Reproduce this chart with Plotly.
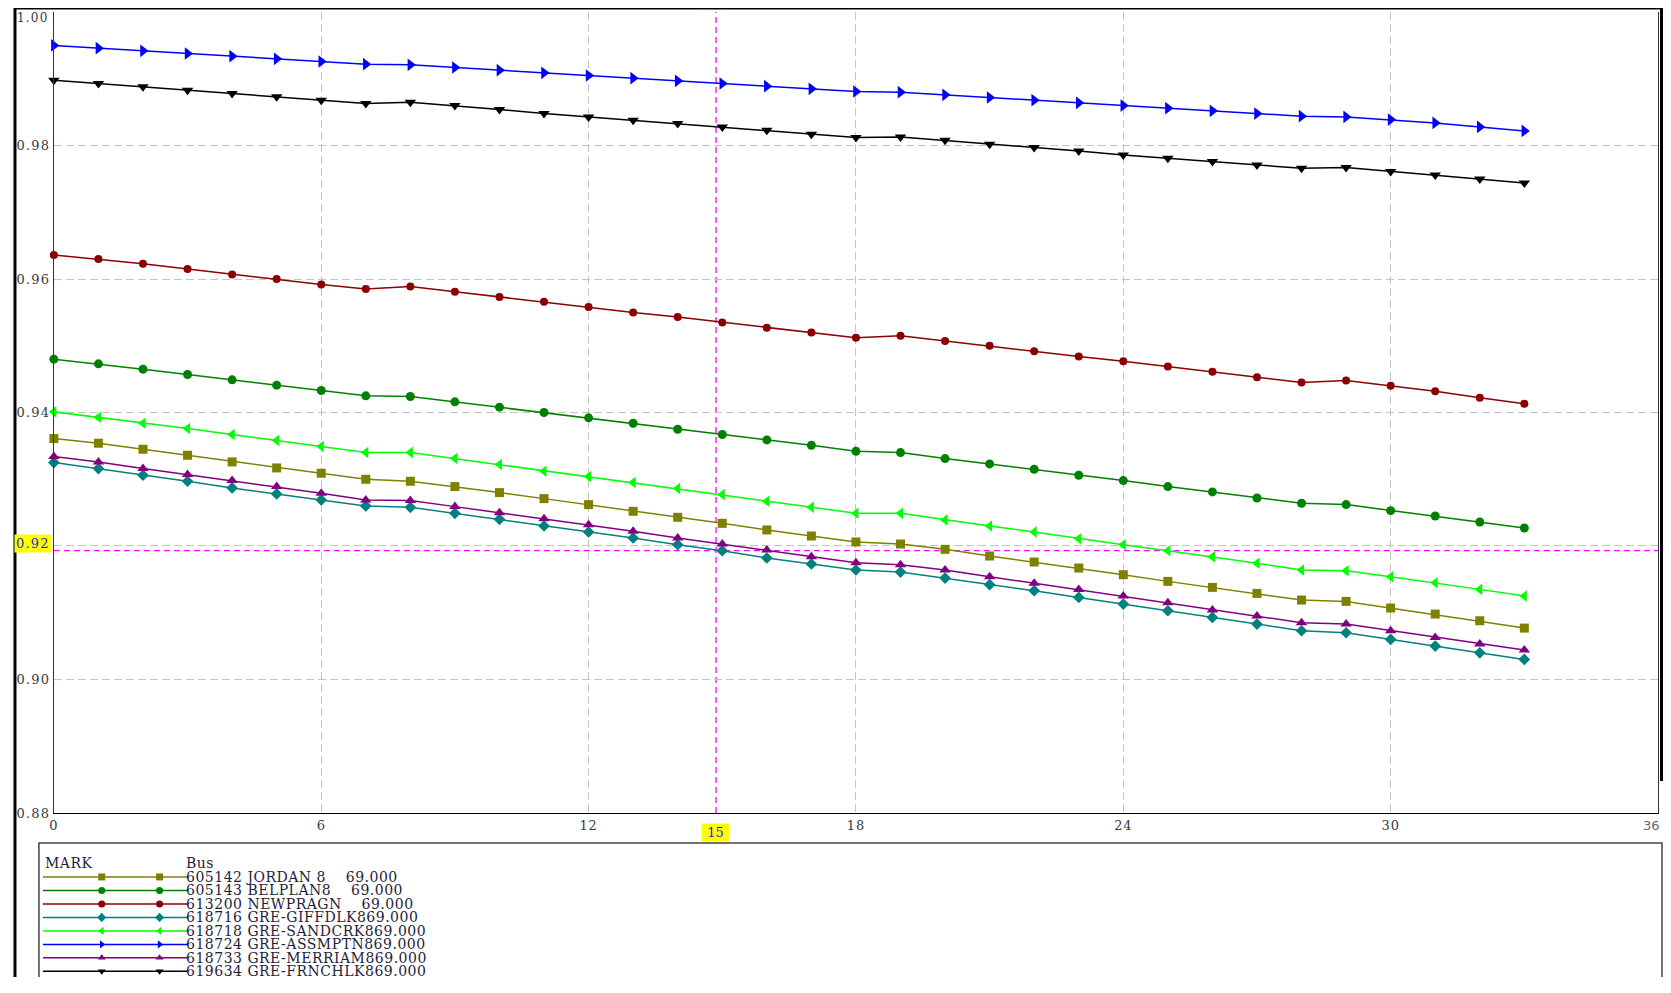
import plotly.graph_objects as go

# ---------------- data ----------------
steps = list(range(34))

bus_labels = [
    "605142 JORDAN 8    69.000",
    "605143 BELPLAN8    69.000",
    "613200 NEWPRAGN    69.000",
    "618716 GRE-GIFFDLK869.000",
    "618718 GRE-SANDCRK869.000",
    "618724 GRE-ASSMPTN869.000",
    "618733 GRE-MERRIAM869.000",
    "619634 GRE-FRNCHLK869.000",
]

jordan = [0.9361, 0.9354, 0.9345, 0.9336, 0.9326, 0.9317, 0.9309, 0.9300, 0.9297, 0.9289,
          0.9280, 0.9271, 0.9262, 0.9252, 0.9243, 0.9234, 0.9224, 0.9215, 0.9206, 0.9203,
          0.9195, 0.9185, 0.9176, 0.9167, 0.9157, 0.9147, 0.9138, 0.9129, 0.9119, 0.9117,
          0.9107, 0.9098, 0.9088, 0.9077]
belplan = [0.9480, 0.9473, 0.9465, 0.9457, 0.9449, 0.9441, 0.9433, 0.9425, 0.9424, 0.9416,
           0.9408, 0.9400, 0.9392, 0.9384, 0.9375, 0.9367, 0.9359, 0.9351, 0.9342, 0.9340,
           0.9331, 0.9323, 0.9315, 0.9306, 0.9298, 0.9289, 0.9281, 0.9272, 0.9264, 0.9262,
           0.9253, 0.9245, 0.9236, 0.9227]
newpragn = [0.9636, 0.9630, 0.9623, 0.9615, 0.9607, 0.9600, 0.9592, 0.9585, 0.9589, 0.9581,
            0.9573, 0.9566, 0.9558, 0.9550, 0.9543, 0.9535, 0.9527, 0.9520, 0.9512, 0.9515,
            0.9507, 0.9500, 0.9492, 0.9484, 0.9477, 0.9469, 0.9461, 0.9453, 0.9445, 0.9448,
            0.9440, 0.9432, 0.9422, 0.9413]
giffdlk = [0.9325, 0.9316, 0.9306, 0.9297, 0.9287, 0.9278, 0.9269, 0.9260, 0.9258, 0.9249,
           0.9240, 0.9230, 0.9221, 0.9212, 0.9202, 0.9193, 0.9182, 0.9173, 0.9164, 0.9161,
           0.9152, 0.9142, 0.9133, 0.9123, 0.9113, 0.9103, 0.9093, 0.9083, 0.9073, 0.9070,
           0.9060, 0.9050, 0.9040, 0.9030]
sandcrk = [0.9401, 0.9393, 0.9384, 0.9376, 0.9367, 0.9358, 0.9349, 0.9340, 0.9340, 0.9331,
           0.9322, 0.9312, 0.9304, 0.9295, 0.9286, 0.9277, 0.9267, 0.9258, 0.9249, 0.9249,
           0.9239, 0.9230, 0.9221, 0.9211, 0.9202, 0.9193, 0.9184, 0.9174, 0.9164, 0.9163,
           0.9154, 0.9145, 0.9135, 0.9125]
assmptn = [0.9950, 0.9946, 0.9942, 0.9938, 0.9934, 0.9930, 0.9926, 0.9922, 0.9921, 0.9917,
           0.9913, 0.9909, 0.9905, 0.9901, 0.9897, 0.9893, 0.9889, 0.9885, 0.9881, 0.9880,
           0.9876, 0.9872, 0.9868, 0.9864, 0.9860, 0.9856, 0.9852, 0.9848, 0.9844, 0.9843,
           0.9839, 0.9834, 0.9828, 0.9822]
merriam = [0.9334, 0.9326, 0.9316, 0.9307, 0.9298, 0.9289, 0.9279, 0.9269, 0.9268, 0.9259,
           0.9250, 0.9241, 0.9232, 0.9222, 0.9212, 0.9203, 0.9194, 0.9184, 0.9175, 0.9172,
           0.9164, 0.9154, 0.9144, 0.9135, 0.9125, 0.9115, 0.9104, 0.9095, 0.9085, 0.9083,
           0.9073, 0.9063, 0.9053, 0.9044]
frnchlk = [0.9898, 0.9893, 0.9888, 0.9883, 0.9878, 0.9873, 0.9868, 0.9863, 0.9865, 0.9860,
           0.9854, 0.9848, 0.9843, 0.9838, 0.9833, 0.9828, 0.9823, 0.9817, 0.9812, 0.9813,
           0.9808, 0.9802, 0.9797, 0.9792, 0.9786, 0.9781, 0.9776, 0.9771, 0.9766, 0.9767,
           0.9761, 0.9756, 0.9750, 0.9744]

series_values = [jordan, belplan, newpragn, giffdlk, sandcrk, assmptn, merriam, frnchlk]

x_tick_vals = [0, 6, 12, 18, 24, 30, 36]
x_tick_labels = ["0", "6", "12", "18", "24", "30", "36"]
y_tick_vals = [0.88, 0.90, 0.92, 0.94, 0.96, 0.98, 1.00]
y_tick_labels = ["0.88", "0.90", "", "0.94", "0.96", "0.98", "1.00"]

cursor_x = 14.86
cursor_y = 0.9193
cursor_x_label = "15"
cursor_y_label = "0.92"

# ---------------- styles ----------------
colors = ["#808000", "#008000", "#8b0000", "#008080", "#00ff00", "#0000ff", "#800080", "#000000"]
symbols = ["square", "circle", "circle", "diamond", "triangle-left", "triangle-right",
           "triangle-up", "triangle-down"]
msizes = [9, 9, 8, 9, 10, 11, 10, 10]

W, H = 1671, 993          # window
OFF = 8                   # default page margin around the figure
FW, FH = W - 2 * OFF, H - 2 * OFF


def px(v):
    """window x pixel -> figure x pixel"""
    return v - OFF


def py(v):
    """window y pixel -> figure y pixel"""
    return (v - 6.9) / 0.992


PL, PR, PT, PB = px(49), px(1658), py(11), py(812)     # plot box in figure pixels
SERIF = "DejaVu Serif"
TICK_COLOR = "#3a3a3a"
LEG_FONT = dict(family=SERIF, size=14, color="#1e1e3c")


def spaced(t, ls=0.5):
    return ('<span style="letter-spacing:%spx">' % ls) + t.replace(" ", "\u00a0") + "</span>"


# last x label and top y label are drawn as annotations (they sit on the figure edge)
x_tick_text = [spaced(t, 0.8) for t in x_tick_labels[:-1]] + [""]
y_tick_text = [spaced(t, 1.2) if t else "" for t in y_tick_labels[:-1]] + [""]

fig = go.Figure()

for name, vals, c, s, ms in zip(bus_labels, series_values, colors, symbols, msizes):
    fig.add_trace(go.Scatter(
        x=steps, y=vals, mode="lines+markers", name=name,
        line=dict(color=c, width=1.5),
        marker=dict(symbol=s, size=ms, color=c, line=dict(width=0)),
        xaxis="x", yaxis="y", cliponaxis=False,
    ))

# ---------------- custom legend (pixel overlay axes) ----------------
LEG_LINE_X0, LEG_LINE_X1 = px(38), px(183)
LEG_MARK_X = [px(97), px(155)]
LEG_HEADER_Y = py(862)
LEG_ROW0, LEG_DY = py(876), 13.6

annotations = []
for i, (name, c, s) in enumerate(zip(bus_labels, colors, symbols)):
    ry = LEG_ROW0 + LEG_DY * i
    fig.add_trace(go.Scatter(x=[LEG_LINE_X0, LEG_LINE_X1], y=[ry, ry], mode="lines",
                             line=dict(color=c, width=1.5), xaxis="x2", yaxis="y2",
                             hoverinfo="skip"))
    fig.add_trace(go.Scatter(x=LEG_MARK_X, y=[ry, ry], mode="markers",
                             marker=dict(symbol=s, size=7, color=c), xaxis="x2", yaxis="y2",
                             hoverinfo="skip"))
    annotations.append(dict(
        x=LEG_LINE_X1 - 3, y=ry, xref="x2", yref="y2", xanchor="left", yanchor="middle",
        text=spaced(name), showarrow=False, font=LEG_FONT))

annotations.append(dict(x=LEG_LINE_X0, y=LEG_HEADER_Y, xref="x2", yref="y2", xanchor="left",
                        yanchor="middle", text=spaced("MARK"), showarrow=False, font=LEG_FONT))
annotations.append(dict(x=LEG_LINE_X1 - 3, y=LEG_HEADER_Y, xref="x2", yref="y2",
                        xanchor="left", yanchor="middle", text=spaced("Bus"),
                        showarrow=False, font=LEG_FONT))

# edge tick labels
annotations.append(dict(x=FW - 1, y=PB + 13, xref="x2", yref="y2", xanchor="right",
                        yanchor="middle", text=x_tick_labels[-1], showarrow=False,
                        font=dict(family="DejaVu Sans", size=13, color="#666666")))
annotations.append(dict(x=PL - 3, y=1.5, xref="x2", yref="y2", xanchor="right",
                        yanchor="top", text=spaced(y_tick_labels[-1], 1.2), showarrow=False,
                        font=dict(family=SERIF, size=12, color=TICK_COLOR)))

# cursor labels (yellow boxes)
annotations.append(dict(x=PL - 2, y=py(542.5), xref="x2", yref="y2", xanchor="right",
                        yanchor="middle", text=spaced(cursor_y_label, 1.2), showarrow=False,
                        bgcolor="#ffff00", borderpad=1,
                        font=dict(family=SERIF, size=13, color="#2828c8")))
annotations.append(dict(x=px(713), y=py(832), xref="x2", yref="y2", xanchor="center",
                        yanchor="middle", text="\u00a0" + cursor_x_label + "\u00a0",
                        showarrow=False, bgcolor="#ffff00", borderpad=1,
                        font=dict(family=SERIF, size=13, color="#2828c8")))

shapes = [
    # cursor lines
    dict(type="line", xref="x", yref="y", x0=cursor_x, x1=cursor_x, y0=0.88, y1=1.0,
         line=dict(color="#ff00ff", width=1.3, dash="6px,4px"), layer="below"),
    dict(type="line", xref="x", yref="y", x0=0, x1=36, y0=cursor_y, y1=cursor_y,
         line=dict(color="#ff00ff", width=1.3, dash="6px,4px"), layer="below"),
    # outer frame
    dict(type="line", xref="x2", yref="y2", x0=px(9), x1=FW, y0=0.8, y1=0.8,
         line=dict(color="#000000", width=1.6)),
    dict(type="line", xref="x2", yref="y2", x0=px(10), x1=px(10), y0=0, y1=FH,
         line=dict(color="#000000", width=3)),
    dict(type="line", xref="x2", yref="y2", x0=FW - 1.5, x1=FW - 1.5, y0=0, y1=py(780),
         line=dict(color="#000000", width=3)),
    # legend box
    dict(type="rect", xref="x2", yref="y2", x0=px(34), x1=FW - 1, y0=py(842), y1=FH + 5,
         line=dict(color="#444444", width=1.5), fillcolor="rgba(0,0,0,0)"),
]

fig.update_layout(
    width=FW, height=FH,
    margin=dict(l=0, r=0, t=0, b=0, pad=0),
    paper_bgcolor="white", plot_bgcolor="rgba(0,0,0,0)",
    showlegend=False,
    xaxis=dict(domain=[PL / FW, PR / FW], range=[0, 36], tickvals=x_tick_vals,
               ticktext=x_tick_text, showgrid=True, gridcolor="#c4c4c4", gridwidth=1,
               griddash="8px,4px", showline=True, linecolor="#000000", linewidth=1.3,
               zeroline=False, ticks="", anchor="y",
               tickfont=dict(family=SERIF, size=13, color=TICK_COLOR)),
    yaxis=dict(domain=[1 - PB / FH, 1 - PT / FH], range=[0.88, 1.0], tickvals=y_tick_vals,
               ticktext=y_tick_text, showgrid=True, gridcolor="#c4c4c4", gridwidth=1,
               griddash="8px,4px", showline=True, mirror=True, linecolor="#333333",
               linewidth=1.3, zeroline=False, ticks="", anchor="x",
               tickfont=dict(family=SERIF, size=13, color=TICK_COLOR)),
    xaxis2=dict(domain=[0, 1], range=[0, FW], visible=False, anchor="y2",
                fixedrange=True),
    yaxis2=dict(domain=[0, 1], range=[FH, 0], visible=False, anchor="x2",
                fixedrange=True),
    annotations=annotations,
    shapes=shapes,
)

fig.write_html("out.html", config={"displayModeBar": False})
